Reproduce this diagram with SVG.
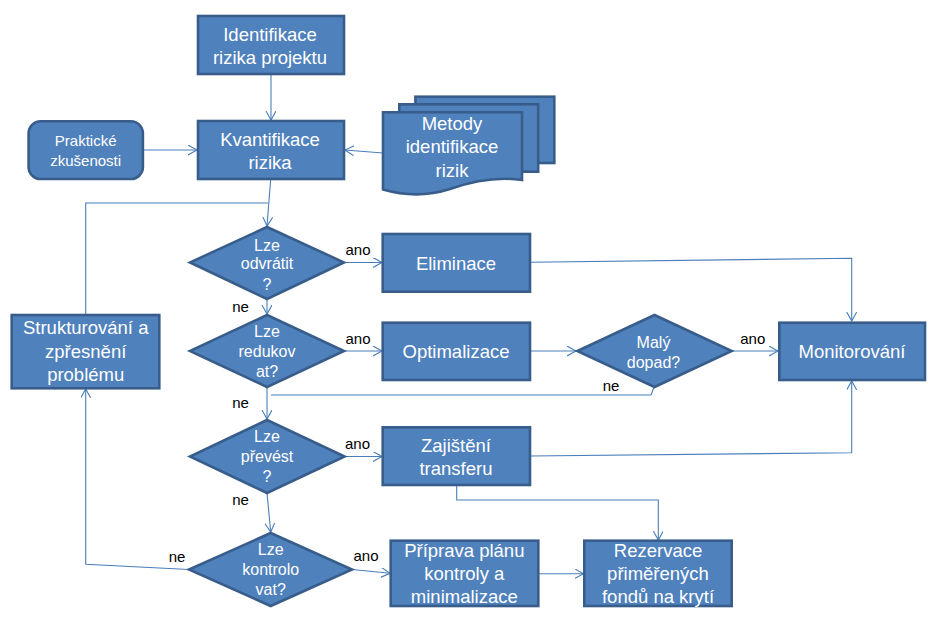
<svg xmlns="http://www.w3.org/2000/svg" width="941" height="621" viewBox="0 0 941 621">
<defs>
<style>
.n{fill:#4f81bd;stroke:#385d8a;stroke-width:2.6}
.t{font-family:"Liberation Sans",Arial,sans-serif;fill:#ffffff;text-anchor:middle}
.big{font-size:18.5px}
.mid{font-size:16px}
.sm{font-size:15px}
.lbl{font-family:"Liberation Sans",Arial,sans-serif;font-size:15px;fill:#000000;text-anchor:middle}
.c{fill:none;stroke:#4a7ebb;stroke-width:1.1}
.a{marker-end:url(#arr)}
</style>
<marker id="arr" markerUnits="userSpaceOnUse" markerWidth="12" markerHeight="12" refX="9" refY="5" orient="auto">
<path d="M0,0 L9,5 L0,10" fill="none" stroke="#4a7ebb" stroke-width="1.1"/>
</marker>
</defs>
<rect width="941" height="621" fill="#ffffff"/>

<g id="connectors">
<path class="c a" d="M271,74 V120"/>
<path class="c a" d="M143,150 H197"/>
<path class="c a" d="M383,153 L345,150"/>
<path class="c a" d="M270.7,179 L267,226"/>
<path class="c" d="M85.7,315 V203 H268"/>
<path class="c a" d="M344,262.5 H382"/>
<path class="c a" d="M267,299 V314"/>
<path class="c a" d="M344,351 H382"/>
<path class="c a" d="M267,387 V419"/>
<path class="c a" d="M530,351 H576"/>
<path class="c a" d="M731.7,351 H778"/>
<path class="c" d="M654,387 L651,395 H271"/>
<path class="c a" d="M530,262.3 L851.7,258.3 V321"/>
<path class="c a" d="M344.6,456.5 H382"/>
<path class="c a" d="M267,493 L270.7,532"/>
<path class="c a" d="M530,456 L851.7,452.7 V381"/>
<path class="c a" d="M456.7,485 V500 H658.3 V540"/>
<path class="c a" d="M352,569.5 L390,573.3"/>
<path class="c a" d="M538.3,573.7 H583.5"/>
<path class="c a" d="M189,569.5 L85.7,564.3 V389"/>
<text class="lbl" x="358" y="255">ano</text>
<text class="lbl" x="240.5" y="312">ne</text>
<text class="lbl" x="358" y="344">ano</text>
<text class="lbl" x="240.5" y="408">ne</text>
<text class="lbl" x="752.8" y="344">ano</text>
<text class="lbl" x="611" y="391">ne</text>
<text class="lbl" x="357.5" y="449">ano</text>
<text class="lbl" x="240.5" y="505">ne</text>
<text class="lbl" x="366" y="561">ano</text>
<text class="lbl" x="177" y="562">ne</text>
</g>

<g id="identifikace">
<rect class="n" x="198" y="16" width="146" height="58"/>
<text class="t big" x="270" y="41">Identifikace</text>
<text class="t big" x="270" y="64">rizika projektu</text>
</g>

<g id="kvantifikace">
<rect class="n" x="198" y="121" width="146" height="58"/>
<text class="t big" x="270" y="145.5">Kvantifikace</text>
<text class="t big" x="270" y="169">rizika</text>
</g>

<g id="prakticke">
<rect class="n" x="28.6" y="121.3" width="114.3" height="57.7" rx="12" ry="12"/>
<text class="t sm" x="85.7" y="145.5">Praktické</text>
<text class="t sm" x="85.7" y="165.5">zkušenosti</text>
</g>

<g id="metody">
<rect class="n" x="415.4" y="96.7" width="138.9" height="66.3"/>
<rect class="n" x="399.3" y="104.3" width="138.9" height="67.4"/>
<path class="n" d="M383,112.3 H522 V180 C495,176 470,182 450,189 C425,197 402,195 383,189.5 Z"/>
<text class="t big" x="452" y="130">Metody</text>
<text class="t big" x="452" y="153">identifikace</text>
<text class="t big" x="452" y="176.5">rizik</text>
</g>

<g id="strukturovani">
<rect class="n" x="11.7" y="315" width="147.6" height="73.3"/>
<text class="t big" x="85.7" y="334">Strukturování a</text>
<text class="t big" x="85.7" y="358">zpřesnění</text>
<text class="t big" x="85.7" y="381">problému</text>
</g>

<g id="d-odvratit">
<polygon class="n" points="267,227 344,262.5 267,299 190,262.5"/>
<text class="t mid" x="267" y="250.5">Lze</text>
<text class="t mid" x="267" y="269">odvrátit</text>
<text class="t mid" x="267" y="289.5">?</text>
</g>

<g id="d-redukovat">
<polygon class="n" points="267,315 344,351 267,387 190,351"/>
<text class="t mid" x="267" y="336.5">Lze</text>
<text class="t mid" x="267" y="356.5">redukov</text>
<text class="t mid" x="267" y="376.5">at?</text>
</g>

<g id="d-prevest">
<polygon class="n" points="267,420 344.6,456.5 267,493 190,456.5"/>
<text class="t mid" x="267" y="441.5">Lze</text>
<text class="t mid" x="267" y="461.5">převést</text>
<text class="t mid" x="267" y="482">?</text>
</g>

<g id="d-kontrolovat">
<polygon class="n" points="270.7,533 352,569.5 270.7,606 189,569.5"/>
<text class="t mid" x="270.7" y="554.5">Lze</text>
<text class="t mid" x="270.7" y="574.5">kontrolo</text>
<text class="t mid" x="270.7" y="595">vat?</text>
</g>

<g id="d-maly">
<polygon class="n" points="654.5,315 731.7,351 654.5,387 577.3,351"/>
<text class="t mid" x="653.5" y="348">Malý</text>
<text class="t mid" x="653.5" y="367.5">dopad?</text>
</g>

<g id="eliminace">
<rect class="n" x="382.7" y="234" width="147.3" height="57.7"/>
<text class="t big" x="456" y="269.5">Eliminace</text>
</g>

<g id="optimalizace">
<rect class="n" x="382.7" y="322.7" width="147.3" height="57.3"/>
<text class="t big" x="456" y="358">Optimalizace</text>
</g>

<g id="monitorovani">
<rect class="n" x="779.3" y="322.7" width="145.7" height="57.3"/>
<text class="t big" x="852" y="358">Monitorování</text>
</g>

<g id="zajisteni">
<rect class="n" x="382.7" y="427.3" width="147.3" height="57.7"/>
<text class="t big" x="456" y="451.5">Zajištění</text>
<text class="t big" x="456" y="474.5">transferu</text>
</g>

<g id="priprava">
<rect class="n" x="390.7" y="540.7" width="147.6" height="65.3"/>
<text class="t big" x="464.3" y="556.5">Příprava plánu</text>
<text class="t big" x="464.3" y="580">kontroly a</text>
<text class="t big" x="464.3" y="603">minimalizace</text>
</g>

<g id="rezervace">
<rect class="n" x="584.3" y="540.7" width="147.4" height="65.3"/>
<text class="t big" x="658" y="556.5">Rezervace</text>
<text class="t big" x="658" y="580">přiměřených</text>
<text class="t big" x="658" y="603">fondů na krytí</text>
</g>
</svg>
